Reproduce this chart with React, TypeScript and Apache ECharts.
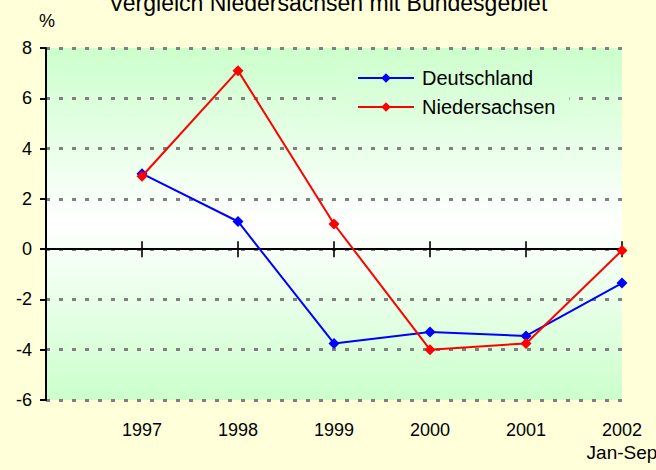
import React, { useEffect, useRef } from "react";
import * as echarts from "echarts";

const years = [1997, 1998, 1999, 2000, 2001, 2002];
const deutschland = [3.0, 1.1, -3.75, -3.3, -3.45, -1.35];
const niedersachsen = [2.9, 7.1, 1.0, -4.0, -3.75, -0.05];
const yTicks = { min: -6, max: 8, interval: 2 };
const titleText = "Vergleich Niedersachsen mit Bundesgebiet";
const lastLabelSuffix = "Jan-Sep";

const FONT = "'Liberation Sans', Arial, sans-serif";

export default function App() {
  const ref = useRef<HTMLDivElement>(null);
  useEffect(() => {
    if (!ref.current) return;
    const chart = echarts.init(ref.current, undefined, { renderer: "svg" });
    chart.setOption({
      animation: false,
      backgroundColor: "#FFFFD9",
      textStyle: { fontFamily: FONT },
      title: {
        text: titleText,
        left: "center",
        top: -14,
        textStyle: { fontSize: 23, fontWeight: "normal", color: "#000", fontFamily: FONT },
      },
      graphic: [
        {
          type: "text",
          x: 47,
          y: 21,
          style: { text: "%", fontSize: 18, fill: "#000", textAlign: "center", textVerticalAlign: "middle", fontFamily: FONT },
        },
      ],
      legend: {
        orient: "vertical",
        left: 345,
        top: 62,
        padding: [6, 14, 6, 12],
        itemWidth: 56,
        itemHeight: 12,
        itemGap: 9,
        backgroundColor: new echarts.graphic.LinearGradient(0, 0, 0, 1, [
          { offset: 0, color: "#D1FFD1" },
          { offset: 1, color: "#E0FFE0" },
        ]),
        textStyle: { fontSize: 20, color: "#000", fontFamily: FONT, padding: [0, 0, 0, 3] },
        data: ["Deutschland", "Niedersachsen"],
      },
      grid: {
        left: 46,
        right: 34,
        top: 48,
        bottom: 70,
        show: true,
        borderWidth: 0,
        containLabel: false,
        outerBoundsMode: "none",
        backgroundColor: new echarts.graphic.LinearGradient(0, 0, 0, 1, [
          { offset: 0, color: "#CCFFCC" },
          { offset: 0.5, color: "#FFFFFF" },
          { offset: 1, color: "#CCFFCC" },
        ]),
      },
      xAxis: [
        {
          type: "value",
          min: years[0] - 1,
          max: years[years.length - 1],
          interval: 1,
          splitLine: { show: false },
          position: "bottom",
          axisLine: { show: false, onZero: false },
          axisTick: { show: false },
          axisLabel: {
            margin: 19,
            fontSize: 18,
            color: "#000",
            lineHeight: 22,
            fontFamily: FONT,
            formatter: (v: number) => {
              if (v < years[0]) return "";
              if (v === years[years.length - 1]) return v + "\n{b|" + lastLabelSuffix + "}";
              return String(v);
            },
            rich: { b: { fontSize: 19, lineHeight: 22, color: "#000", fontFamily: FONT } },
          },
        },
        {
          type: "value",
          min: years[0] - 1,
          max: years[years.length - 1],
          interval: 1,
          splitLine: { show: false },
          axisLine: { show: true, onZero: true, lineStyle: { color: "#000", width: 2 } },
          axisTick: { show: false },
          axisLabel: { show: false },
        },
      ],
      yAxis: {
        type: "value",
        min: yTicks.min,
        max: yTicks.max,
        interval: yTicks.interval,
        axisLine: { show: true, onZero: false, lineStyle: { color: "#000", width: 2 } },
        axisTick: { show: true, length: 6, lineStyle: { color: "#000", width: 2 } },
        axisLabel: { fontSize: 18, color: "#000", margin: 14, fontFamily: FONT },
        splitLine: { show: true, lineStyle: { color: "#808080", width: 3, type: [4, 9] } },
      },
      series: [
        {
          name: "zeroTicks",
          type: "scatter",
          xAxisIndex: 1,
          data: years.map((y) => [y, 0]),
          symbol: "rect",
          symbolSize: [2, 16],
          itemStyle: { color: "#000" },
          silent: true,
          z: 2,
        },
        {
          name: "Deutschland",
          type: "line",
          xAxisIndex: 0,
          data: years.map((y, i) => [y, deutschland[i]]),
          symbol: "diamond",
          symbolSize: 11,
          color: "#0000FF",
          lineStyle: { width: 2, color: "#0000FF" },
          itemStyle: { color: "#0000FF" },
          z: 3,
        },
        {
          name: "Niedersachsen",
          type: "line",
          xAxisIndex: 0,
          data: years.map((y, i) => [y, niedersachsen[i]]),
          symbol: "diamond",
          symbolSize: 11,
          color: "#FF0000",
          lineStyle: { width: 2, color: "#FF0000" },
          itemStyle: { color: "#FF0000" },
          z: 4,
        },
      ],
    });
    return () => chart.dispose();
  }, []);
  return (
    <div
      ref={ref}
      style={{ position: "fixed", left: 0, top: 0, width: 656, height: 470 }}
    />
  );
}
